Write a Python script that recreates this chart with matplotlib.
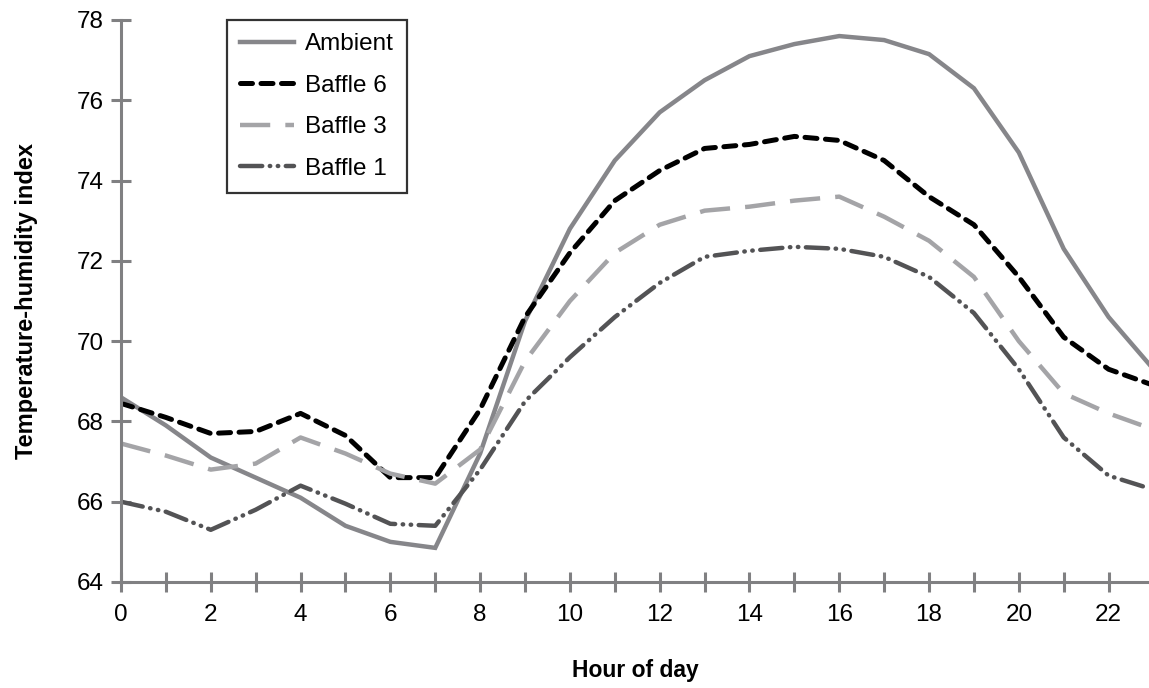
import matplotlib.pyplot as plt
import numpy as np

plt.rcParams['font.family'] = ['Liberation Sans', 'DejaVu Sans']

# --- data (hourly temperature-humidity index) ---
hours = list(range(24))
ambient = [68.6, 67.9, 67.1, 66.6, 66.1, 65.4, 65.0, 64.85, 67.2, 70.5, 72.8, 74.5,
           75.7, 76.5, 77.1, 77.4, 77.6, 77.5, 77.15, 76.3, 74.7, 72.3, 70.6, 69.3]
baffle6 = [68.45, 68.1, 67.7, 67.75, 68.2, 67.65, 66.6, 66.6, 68.3, 70.6, 72.2, 73.5,
           74.25, 74.8, 74.9, 75.1, 75.0, 74.5, 73.6, 72.9, 71.6, 70.1, 69.3, 68.9]
baffle3 = [67.45, 67.15, 66.8, 66.95, 67.6, 67.2, 66.7, 66.45, 67.3, 69.5, 71.0, 72.2,
           72.9, 73.25, 73.35, 73.5, 73.6, 73.1, 72.5, 71.6, 70.0, 68.7, 68.2, 67.8]
baffle1 = [66.0, 65.75, 65.3, 65.8, 66.4, 65.95, 65.45, 65.4, 66.8, 68.5, 69.6, 70.6,
           71.45, 72.1, 72.25, 72.35, 72.3, 72.1, 71.6, 70.7, 69.3, 67.6, 66.65, 66.3]

yticks = list(range(64, 79, 2))

AXIS = '#808082'

fig = plt.figure(figsize=(11.49, 6.88), dpi=100)
ax = fig.add_axes([121 / 1149, 1 - 582 / 688, 1 - 121 / 1149, (582 - 20) / 688])

ax.plot(hours, ambient, color='#86868a', lw=3.2, solid_joinstyle='miter', label='Ambient')
ax.plot(hours, baffle6, color='black', lw=3.6, dashes=(2.4, 1.7),
        dash_capstyle='round', label='Baffle 6')
ax.plot(hours, baffle3, color='#a4a4a7', lw=3.2, dashes=(6.8, 3.4), label='Baffle 3')
ax.plot(hours, baffle1, color='#535355', lw=3.2,
        dashes=(5.0, 1.7, 0.1, 1.7, 0.1, 1.7), dash_capstyle='round', label='Baffle 1')

ax.set_xlim(0, 22.9)
ax.set_ylim(64, 78)
ax.set_xticks(range(0, 23))
ax.set_xticklabels([str(h) if h % 2 == 0 else '' for h in range(0, 23)])
ax.set_yticks(yticks)

for side in ['top', 'right']:
    ax.spines[side].set_visible(False)
for side in ['left', 'bottom']:
    ax.spines[side].set_color(AXIS)
    ax.spines[side].set_linewidth(2.2)

ax.tick_params(axis='both', direction='inout', length=15, width=2.2, color=AXIS,
               labelsize=17.5, labelcolor='black')
ax.tick_params(axis='x', pad=8)
ax.tick_params(axis='y', pad=5)

ax.set_xlabel('Hour of day', fontsize=16.5, fontweight='bold', labelpad=24)
ax.set_ylabel('Temperature-humidity index', fontsize=17, fontweight='bold', labelpad=28)

leg = ax.legend(loc='upper left', bbox_to_anchor=(227 / 1149, 1 - 20 / 688),
                bbox_transform=fig.transFigure, borderaxespad=0, fontsize=17.5,
                frameon=True, fancybox=False, edgecolor='black', handlelength=2.2,
                handletextpad=0.45, labelspacing=0.8, borderpad=0.55)
leg.get_frame().set_linewidth(1.6)

fig.savefig('out.png', dpi=100)
